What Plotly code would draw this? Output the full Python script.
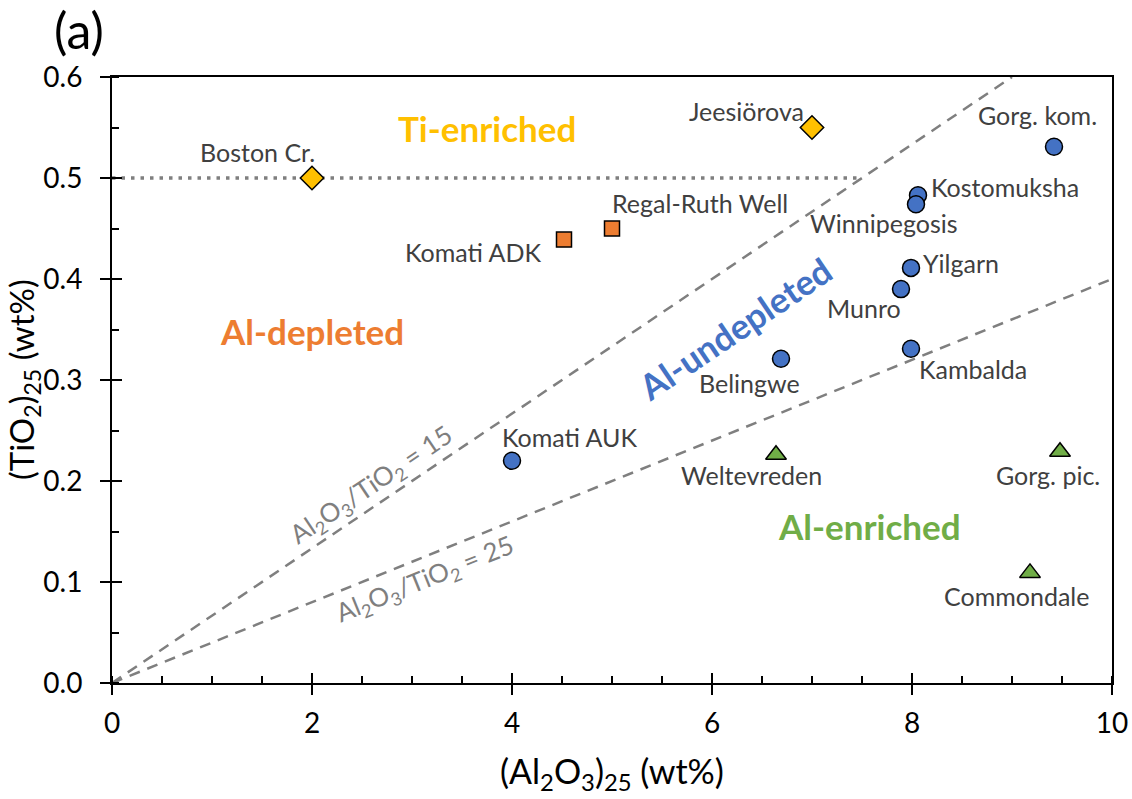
import plotly.graph_objects as go

# ---- sample data: (Al2O3)25 vs (TiO2)25 in wt% ----
names_undep = ["Gorg. kom.", "Kostomuksha", "Winnipegosis", "Yilgarn", "Munro",
               "Kambalda", "Belingwe", "Komati AUK"]
al_undep = [9.42, 8.06, 8.04, 7.99, 7.89, 7.99, 6.69, 4.0]
ti_undep = [0.531, 0.483, 0.474, 0.411, 0.390, 0.331, 0.321, 0.220]

names_tien = ["Boston Cr.", "Jeesiörova"]
al_tien = [2.0, 7.0]
ti_tien = [0.500, 0.550]

names_dep = ["Komati ADK", "Regal-Ruth Well"]
al_dep = [4.52, 5.0]
ti_dep = [0.439, 0.450]

names_enr = ["Weltevreden", "Gorg. pic.", "Commondale"]
al_enr = [6.64, 9.48, 9.18]
ti_enr = [0.226, 0.229, 0.109]

# reference Al2O3/TiO2 ratios and Ti-enrichment threshold
ratios = [15, 25]
ti_threshold = 0.5

# label offsets in pixels (xshift, yshift, xanchor)
label_offsets = {
    "Gorg. kom.": (-17, 32, "center"),
    "Kostomuksha": (11, 8, "left"),
    "Winnipegosis": (-32, -19, "center"),
    "Yilgarn": (10, 5, "left"),
    "Munro": (-37, -19, "center"),
    "Kambalda": (6, -20, "left"),
    "Belingwe": (-32, -24, "center"),
    "Komati AUK": (57, 24, "center"),
    "Boston Cr.": (-55, 26, "center"),
    "Jeesiörova": (-6, 17, "right"),
    "Komati ADK": (-20, -12, "right"),
    "Regal-Ruth Well": (88, 26, "center"),
    "Weltevreden": (-25, -20, "center"),
    "Gorg. pic.": (-12, -23, "center"),
    "Commondale": (-14, -23, "center"),
}

FONT = "Lato"
BLUE, ORANGE, YELLOW, GREEN = "#4472C4", "#ED7D31", "#FFC000", "#70AD47"
GREY = "#7F7F7F"
TXT = "#404040"

X_RANGE = [0, 10]
Y_RANGE = [0, 0.6]

fig = go.Figure()

# ratio lines
for r in ratios:
    x_end = min(X_RANGE[1], Y_RANGE[1] * r)
    fig.add_trace(go.Scatter(x=[0, x_end], y=[0, x_end / r], mode="lines",
                             line=dict(color=GREY, width=2.5, dash="11px,8px"),
                             hoverinfo="skip"))

# Ti threshold (dotted) up to the 15 ratio line
fig.add_trace(go.Scatter(x=[0, ti_threshold * ratios[0]], y=[ti_threshold, ti_threshold],
                         mode="lines", line=dict(color=GREY, width=3.5, dash="3.5px,6px"),
                         hoverinfo="skip"))

def add_group(xs, ys, symbol, color, size):
    fig.add_trace(go.Scatter(
        x=xs, y=ys, mode="markers",
        marker=dict(symbol=symbol, color=color, size=size,
                    line=dict(color="black", width=1.5)),
    ))

add_group(al_undep, ti_undep, "circle", BLUE, 17)
add_group(al_tien, ti_tien, "diamond", YELLOW, 18)
add_group(al_dep, ti_dep, "square", ORANGE, 15)
add_group(al_enr, ti_enr, "triangle-up", GREEN, 18)

# point labels
for names, xs, ys in [(names_undep, al_undep, ti_undep), (names_tien, al_tien, ti_tien),
                      (names_dep, al_dep, ti_dep), (names_enr, al_enr, ti_enr)]:
    for n, x, y in zip(names, xs, ys):
        dx, dy, anc = label_offsets[n]
        fig.add_annotation(x=x, y=y, text=n, showarrow=False, xanchor=anc,
                           yanchor="middle", xshift=dx, yshift=dy,
                           font=dict(family=FONT, size=25, color=TXT))

# field labels
fields = [
    ("Ti-enriched", 3.75, 0.550, YELLOW, 0),
    ("Al-depleted", 2.0, 0.349, ORANGE, 0),
    ("Al-undepleted", 6.23, 0.351, BLUE, -34),
    ("Al-enriched", 7.57, 0.155, GREEN, 0),
]
for t, x, y, c, ang in fields:
    fig.add_annotation(x=x, y=y, text=f"<b>{t}</b>", showarrow=False, textangle=ang,
                       font=dict(family=FONT, size=35, color=c))

# ratio line labels
for r, x, y, ang in [(15, 2.59, 0.196, -34), (25, 3.13, 0.102, -22)]:
    fig.add_annotation(x=x, y=y, text=f"Al<sub>2</sub>O<sub>3</sub>/TiO<sub>2</sub> = {r}",
                       showarrow=False, textangle=ang,
                       font=dict(family=FONT, size=26, color=GREY))

# panel letter
fig.add_annotation(xref="paper", yref="paper", x=-0.033, y=1.078, xanchor="center",
                   yanchor="middle", text="(a)", showarrow=False,
                   font=dict(family=FONT, size=50, color="black"))

# axis titles
fig.add_annotation(xref="paper", yref="paper", x=0.5, y=-0.1485, xanchor="center",
                   yanchor="middle", showarrow=False,
                   text="(Al<sub>2</sub>O<sub>3</sub>)<sub>25</sub> (wt%)",
                   font=dict(family=FONT, size=34, color="black"))
fig.add_annotation(xref="paper", yref="paper", x=-0.089, y=0.5, xanchor="center",
                   yanchor="middle", showarrow=False, textangle=-90,
                   text="(TiO<sub>2</sub>)<sub>25</sub> (wt%)",
                   font=dict(family=FONT, size=33, color="black"))

axis_common = dict(showgrid=False, zeroline=False, showline=True, linecolor="black",
                   linewidth=2, mirror=True, ticks="outside", ticklen=10, tickwidth=2,
                   tickcolor="black", automargin=False,
                   tickfont=dict(family=FONT, size=28, color="black"))

fig.update_layout(
    width=1132, height=799,
    margin=dict(l=112, r=20, t=77, b=116),
    paper_bgcolor="white", plot_bgcolor="white",
    showlegend=False,
    xaxis=dict(range=X_RANGE, dtick=2, tick0=0, ticklabelstandoff=4,
               minor=dict(ticks="inside", ticklen=7, dtick=0.5, tickwidth=2, tickcolor="black"),
               **axis_common),
    yaxis=dict(range=Y_RANGE, dtick=0.1, tick0=0, tickformat=".1f", ticklabelstandoff=12,
               minor=dict(ticks="inside", ticklen=7, dtick=0.05, tickwidth=2, tickcolor="black"),
               **axis_common),
    # overlay axes carry the inner half of the major ticks
    xaxis2=dict(range=X_RANGE, dtick=2, tick0=0, overlaying="x", anchor="y", side="bottom",
                ticks="inside", ticklen=10, tickwidth=2, tickcolor="black", automargin=False,
                showticklabels=False, showgrid=False, zeroline=False, showline=False),
    yaxis2=dict(range=Y_RANGE, dtick=0.1, tick0=0, overlaying="y", anchor="x", side="left",
                ticks="inside", ticklen=10, tickwidth=2, tickcolor="black", automargin=False,
                showticklabels=False, showgrid=False, zeroline=False, showline=False),
)
fig.add_trace(go.Scatter(x=[None], y=[None], xaxis="x2", yaxis="y2", mode="markers",
                         hoverinfo="skip"))

fig.write_html("out.html")
